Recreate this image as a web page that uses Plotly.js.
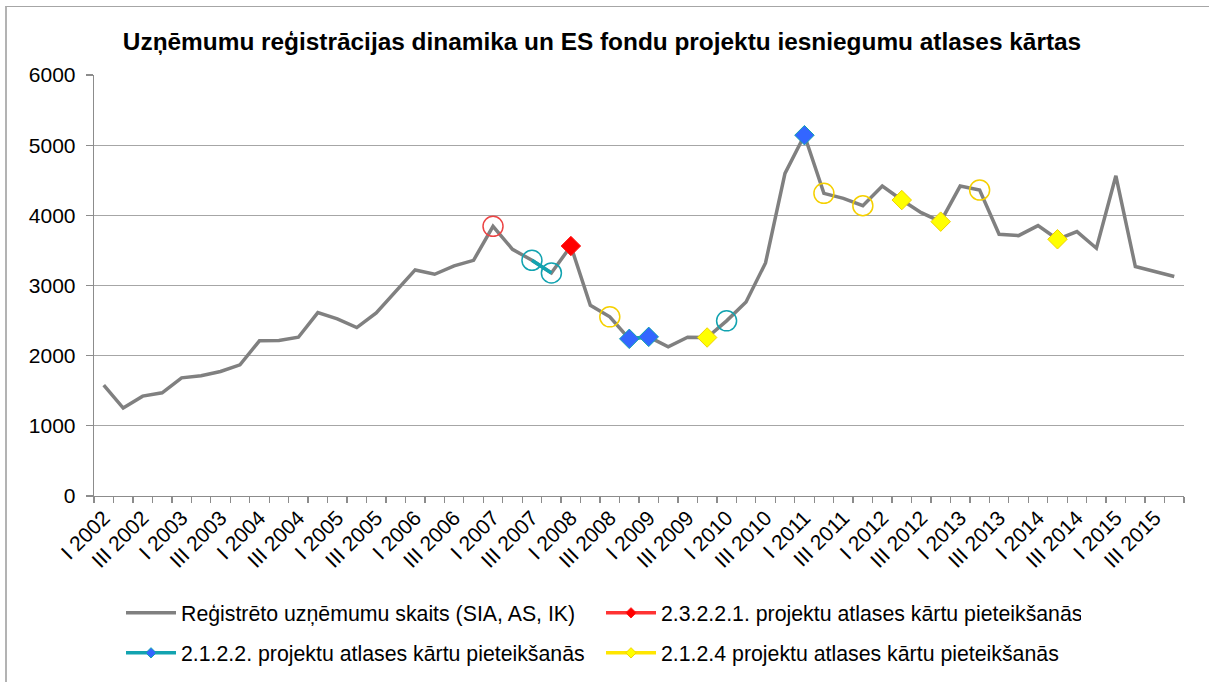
<!DOCTYPE html>
<html>
<head>
<meta charset="utf-8">
<script src="https://cdn.plot.ly/plotly-3.0.1.min.js"></script>
<style>
  html, body { margin: 0; padding: 0; background: #ffffff; }
  #wrap { position: relative; width: 1209px; height: 682px; overflow: hidden; }
  #chart { position: absolute; left: 0; top: 0; width: 1209px; height: 682px; }
  #frame { position: absolute; left: 5px; top: 6px; width: 1210px; height: 690px;
           border-left: 2px solid #b3b3b3; border-top: 1px solid #a6a6a6; pointer-events: none; }
</style>
</head>
<body>
<div id="wrap">
  <div id="chart"></div>
  <div id="frame"></div>
</div>
<script>
// ---- data ----
const quarters = [
  "I 2002","II 2002","III 2002","IV 2002",
  "I 2003","II 2003","III 2003","IV 2003",
  "I 2004","II 2004","III 2004","IV 2004",
  "I 2005","II 2005","III 2005","IV 2005",
  "I 2006","II 2006","III 2006","IV 2006",
  "I 2007","II 2007","III 2007","IV 2007",
  "I 2008","II 2008","III 2008","IV 2008",
  "I 2009","II 2009","III 2009","IV 2009",
  "I 2010","II 2010","III 2010","IV 2010",
  "I 2011","II 2011","III 2011","IV 2011",
  "I 2012","II 2012","III 2012","IV 2012",
  "I 2013","II 2013","III 2013","IV 2013",
  "I 2014","II 2014","III 2014","IV 2014",
  "I 2015","II 2015","III 2015","IV 2015"
];

const tickLabels = [
  "I 2002","III 2002","I 2003","III 2003","I 2004","III 2004","I 2005","III 2005",
  "I 2006","III 2006","I 2007","III 2007","I 2008","III 2008","I 2009","III 2009",
  "I 2010","III 2010","I 2011","III 2011","I 2012","III 2012","I 2013","III 2013",
  "I 2014","III 2014","I 2015","III 2015"
];

const registeredName = "Reģistrēto uzņēmumu skaits (SIA, AS, IK)";
const registered = [
  1580,1253,1423,1471,1684,1713,1775,1870,2211,2216,2263,2614,2524,2401,
  2610,2909,3222,3160,3279,3359,3843,3516,3359,3179,3563,2719,2553,2240,
  2268,2126,2263,2259,2496,2766,3322,4597,5142,4313,4242,4137,4417,4218,
  4038,3910,4417,4360,3730,3711,3853,3659,3768,3531,4564,3270,3199,3128
];

const redName = "2.3.2.2.1. projektu atlases kārtu pieteikšanās";
const redQuarters = ["I 2007","I 2008"];
const redValues = [3843,3563];
const redKinds = ["circle","diamond"];

const tealName = "2.1.2.2. projektu atlases kārtu pieteikšanās";
const tealQuarters = ["III 2007","IV 2007","IV 2008","I 2009","I 2010","I 2011"];
const tealValues = [3359,3179,2240,2268,2496,5142];
const tealKinds = ["circle","circle","diamond","diamond","circle","diamond"];

const yellowName = "2.1.2.4 projektu atlases kārtu pieteikšanās";
const yellowQuarters = ["III 2008","IV 2009","II 2011","IV 2011","II 2012","IV 2012","II 2013","II 2014"];
const yellowValues = [2553,2259,4313,4137,4218,3910,4360,3659];
const yellowKinds = ["circle","diamond","circle","circle","diamond","diamond","circle","diamond"];

// ---- styles ----
const FONT = "Liberation Sans, Arial, sans-serif";
const styles = {
  red:    {line: "#ff3333", circle: "#ec4444", fill: "#ff0000", border: "#ff1a1a"},
  teal:   {line: "#12a3b0", circle: "#12a3b0", fill: "#3366ff", border: "#12a3b0"},
  yellow: {line: "#ffe600", circle: "#f5d000", fill: "#ffff00", border: "#f0d200"}
};

function seriesTraces(name, qs, vals, kinds, st, legendId) {
  const y = quarters.map(q => { const i = qs.indexOf(q); return i >= 0 ? vals[i] : null; });
  const kindAt = quarters.map(q => { const i = qs.indexOf(q); return i >= 0 ? kinds[i] : "diamond"; });
  const main = {
    type: "scatter", mode: "lines+markers", x: quarters, y: y, name: name,
    connectgaps: false, showlegend: false, cliponaxis: false,
    line: {color: st.line, width: 3.5},
    marker: {
      opacity: 1,
      symbol: kindAt.map(k => k === "circle" ? "circle-open" : "diamond"),
      size: kindAt.map(k => k === "circle" ? 20 : 15),
      color: kindAt.map(k => k === "circle" ? st.circle : st.fill),
      line: {
        color: kindAt.map(k => k === "circle" ? st.circle : st.border),
        width: kindAt.map(k => k === "circle" ? 1.5 : 1)
      }
    },
    hoverinfo: "x+y"
  };
  const legendOnly = {
    type: "scatter", mode: "lines+markers", x: [null], y: [null], name: name,
    legend: legendId, showlegend: true, hoverinfo: "skip",
    line: {color: st.line, width: 3.5},
    marker: {opacity: 1, symbol: "diamond", size: 8, color: st.fill, line: {color: st.border, width: 1}}
  };
  return [main, legendOnly];
}

const redT = seriesTraces(redName, redQuarters, redValues, redKinds, styles.red, "legend");
const tealT = seriesTraces(tealName, tealQuarters, tealValues, tealKinds, styles.teal, "legend2");
const yellowT = seriesTraces(yellowName, yellowQuarters, yellowValues, yellowKinds, styles.yellow, "legend2");

const greyTrace = {
  type: "scatter", mode: "lines", x: quarters, y: registered, name: registeredName,
  legend: "legend", line: {color: "#808080", width: 3.5}
};

const data = [
  greyTrace,
  redT[0], tealT[0], yellowT[0],
  redT[1], tealT[1], yellowT[1]
];

const legendBase = {
  orientation: "h", xref: "container", yref: "container",
  xanchor: "left", yanchor: "middle",
  entrywidth: 415, entrywidthmode: "pixels", itemwidth: 50,
  font: {family: FONT, size: 21.3, color: "#000000"},
  bgcolor: "rgba(0,0,0,0)", traceorder: "normal"
};

const layout = {
  width: 1209, height: 682,
  paper_bgcolor: "#ffffff", plot_bgcolor: "#ffffff",
  margin: {l: 94, r: 25, t: 75, b: 186},
  font: {family: FONT, size: 21, color: "#000000"},
  title: {
    text: "Uzņēmumu reģistrācijas dinamika un ES fondu projektu iesniegumu atlases kārtas",
    font: {family: FONT, size: 24.4, weight: "bold", color: "#000000"},
    xref: "container", x: 602 / 1209, xanchor: "center",
    yref: "container", y: 1 - 41 / 682, yanchor: "middle"
  },
  xaxis: {
    type: "category", categoryorder: "array", categoryarray: quarters,
    range: [-0.5, quarters.length - 0.5], autorange: false,
    tickmode: "array", tickvals: quarters,
    ticktext: quarters.map(q => tickLabels.includes(q) ? q : ""),
    tickson: "boundaries", ticks: "outside", ticklen: 6, tickcolor: "#8c8c8c", tickwidth: 1.3,
    tickangle: -45, tickfont: {family: FONT, size: 21, color: "#000000"},
    showline: true, linecolor: "#8c8c8c", linewidth: 1.3,
    showgrid: false, zeroline: false, fixedrange: true
  },
  yaxis: {
    range: [0, 6000], autorange: false, dtick: 1000, tick0: 0,
    ticks: "outside", ticklen: 7, tickcolor: "#8c8c8c", tickwidth: 1.3,
    ticklabelstandoff: 6,
    tickfont: {family: FONT, size: 21, color: "#000000"},
    showline: true, linecolor: "#8c8c8c", linewidth: 1.3,
    showgrid: true, gridcolor: "#a6a6a6", gridwidth: 1.3,
    zeroline: false, fixedrange: true
  },
  legend: Object.assign({}, legendBase, {x: 121 / 1209, y: 1 - 613 / 682}),
  legend2: Object.assign({}, legendBase, {x: 121 / 1209, y: 1 - 653 / 682}),
  showlegend: true
};

Plotly.newPlot("chart", data, layout, {staticPlot: true, displayModeBar: false});
</script>
</body>
</html>
